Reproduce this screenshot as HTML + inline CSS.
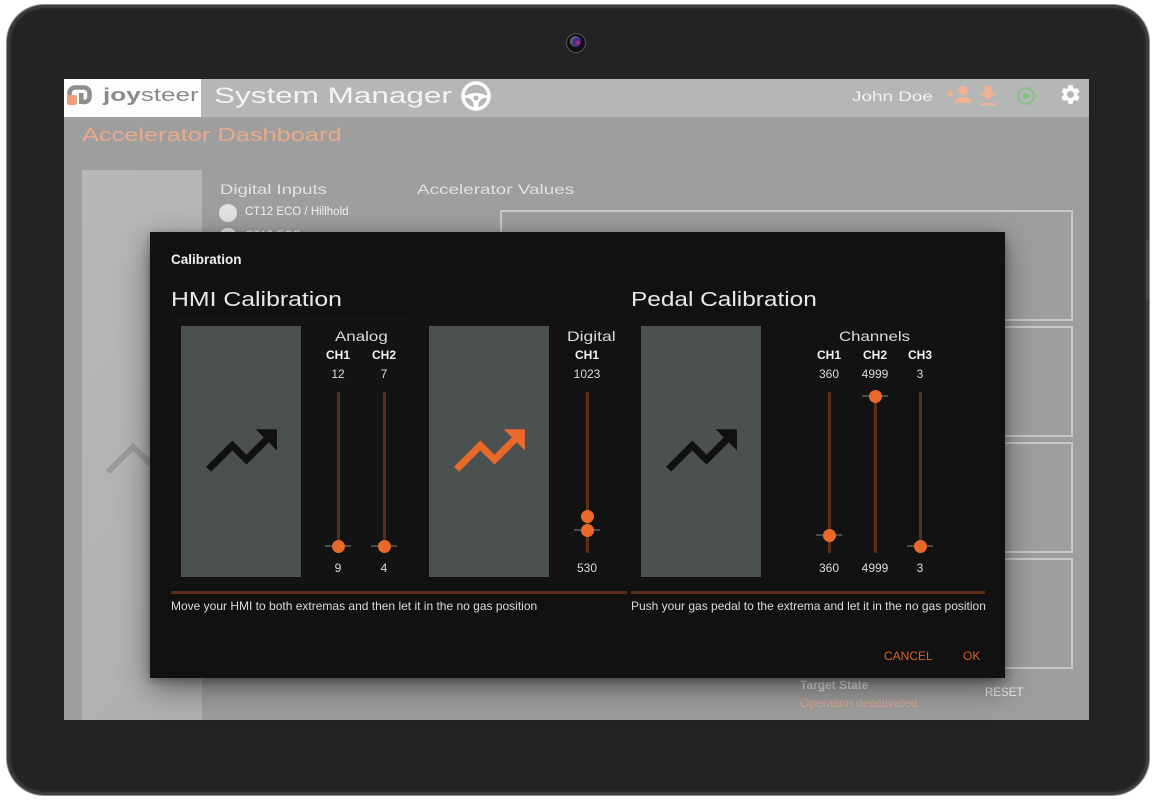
<!DOCTYPE html>
<html><head><meta charset="utf-8"><style>
*{margin:0;padding:0;box-sizing:border-box}
html,body{width:1155px;height:800px;background:#fff;overflow:hidden}
body{position:relative;font-family:"Liberation Sans",sans-serif}
.a{position:absolute}
.t{position:absolute;line-height:1;white-space:nowrap}
.w{display:inline-block;transform-origin:0 50%}
.c{position:absolute;line-height:1;white-space:nowrap;text-align:center;width:80px}
.track{position:absolute;width:3px;background:#5c2e16;top:392px;height:161px}
.tick{position:absolute;width:26px;height:2px;background:#4a4a4a}
.thumb{position:absolute;width:13px;height:13px;border-radius:50%;background:#e8692a}
.img{position:absolute;background:#4b5150;top:326px;width:120px;height:251px}
</style></head><body>

<!-- tablet -->
<div class="a" style="left:6px;top:4px;width:1144px;height:792px;border-radius:38px;background:#8f8f8f"></div>
<div class="a" style="left:7px;top:5px;width:1142px;height:790px;border-radius:37px;background:#3b3b3b"></div>
<div class="a" style="left:10px;top:8px;width:1136px;height:784px;border-radius:34px;background:#2a2a2a"></div>
<div class="a" style="left:12px;top:10px;width:1132px;height:780px;border-radius:32px;background:#232323"></div>
<div class="a" style="left:1146px;top:240px;width:3px;height:60px;background:#4a4a4a"></div>
<!-- camera -->
<div class="a" style="left:566px;top:33px;width:20px;height:20px;border-radius:50%;background:#111;border:1px solid #555"></div>
<div class="a" style="left:570px;top:36px;width:11px;height:11px;border-radius:50%;background:radial-gradient(circle at 70% 60%,#c0307a 0,#3a2a8a 35%,#666 70%)"></div>

<!-- screen -->
<div class="a" style="left:64px;top:79px;width:1025px;height:641px;background:#9e9e9e;overflow:hidden"></div>
<!-- header -->
<div class="a" style="left:64px;top:79px;width:1025px;height:38px;background:#b5b7b6"></div>
<div class="a" style="left:64px;top:79px;width:137px;height:38px;background:#fdfdfd"></div>
<!-- logo icon -->
<svg class="a" style="left:66px;top:85px" width="27" height="20" viewBox="0 0 27 20">
<path d="M3.5 18 V8 a5.5 5.5 0 0 1 5.5 -5.5 h9 a5.5 5.5 0 0 1 5.5 5.5 v4 a5 5 0 0 1 -5 5 h-2" fill="none" stroke="#8d8d8d" stroke-width="4.5"/>
<rect x="1" y="10" width="10" height="10" rx="2" fill="#ea9f7f"/>
<rect x="13" y="8" width="4.5" height="11" fill="#8d8d8d"/>
</svg>
<div class="t" style="left:103px;top:86px;font-size:18px;color:#8a8a8a"><span class="w" style="transform:scaleX(1.45)"><b>joy</b>steer</span></div>
<div class="t" style="left:214px;top:85px;font-size:22px;color:#f4f4f4"><span class="w" style="transform:scaleX(1.43)">System Manager</span></div>
<!-- steering wheel -->
<svg class="a" style="left:460px;top:80px" width="32" height="32" viewBox="0 0 32 32">
<circle cx="16" cy="16" r="13" fill="none" stroke="#fff" stroke-width="3.5"/>
<path d="M4 16 Q16 10 28 16 L28 18 Q22 17 19 22 L18 28 L14 28 L13 22 Q10 17 4 18 Z" fill="#fff"/>
<circle cx="16" cy="18" r="2.5" fill="#b5b7b6"/>
</svg>
<div class="t" style="left:852px;top:89px;font-size:14px;color:#f2f2f2"><span class="w" style="transform:scaleX(1.35)">John Doe</span></div>
<!-- person star -->
<svg class="a" style="left:945px;top:85px" width="27" height="20" viewBox="0 0 27 20">
<polygon points="5,4 6.3,7.2 9.6,7.4 7,9.5 7.9,12.8 5,11 2.1,12.8 3,9.5 0.4,7.4 3.7,7.2" fill="#f0b292"/>
<circle cx="18" cy="5.5" r="4.7" fill="#f0b292"/>
<path d="M9 18 Q9 12 18 12 Q27 12 27 18 Z" fill="#f0b292"/>
</svg>
<svg class="a" style="left:974px;top:82px" width="28" height="28" viewBox="0 0 24 24"><path d="M19 9h-4V3H9v6H5l7 7 7-7zM5 18v2h14v-2H5z" fill="#f0b292"/></svg>
<svg class="a" style="left:1015px;top:85px" width="22" height="22" viewBox="0 0 22 22"><circle cx="11" cy="11" r="8" fill="none" stroke="#7cc47c" stroke-width="1.6"/><circle cx="11" cy="11" r="3" fill="#7cc47c"/></svg>
<svg class="a" style="left:1059px;top:83px" width="23" height="23" viewBox="0 0 24 24"><path fill="#fff" d="M19.14 12.94c.04-.3.06-.61.06-.94 0-.32-.02-.64-.07-.94l2.030-1.58c.18-.14.23-.41.12-.61l-1.92-3.32c-.12-.22-.37-.29-.59-.22l-2.39.96c-.5-.38-1.030-.7-1.62-.94l-.36-2.54c-.04-.24-.24-.41-.48-.41h-3.84c-.24 0-.43.17-.47.41l-.36 2.54c-.59.24-1.13.57-1.62.94l-2.39-.96c-.22-.08-.47 0-.59.22L2.74 8.87c-.12.21-.08.47.12.61l2.030 1.58c-.05.3-.09.63-.09.94s.02.64.07.94l-2.030 1.58c-.18.14-.23.41-.12.61l1.92 3.32c.12.22.37.29.59.22l2.39-.96c.5.38 1.030.7 1.62.94l.36 2.54c.05.24.24.41.48.41h3.84c.24 0 .44-.17.47-.41l.36-2.54c.59-.24 1.13-.56 1.62-.94l2.39.96c.22.08.47 0 .59-.22l1.92-3.32c.12-.22.07-.47-.12-.61l-2.01-1.58zM12 15.6c-1.98 0-3.6-1.62-3.6-3.6s1.62-3.6 3.6-3.6 3.6 1.62 3.6 3.6-1.62 3.6-3.6 3.6z"/></svg>

<div class="t" style="left:82px;top:126px;font-size:18px;color:#eaa98a"><span class="w" style="transform:scaleX(1.41)">Accelerator Dashboard</span></div>

<!-- left panel -->
<div class="a" style="left:82px;top:170px;width:120px;height:550px;background:linear-gradient(135deg,#b6b8b7,#aeb0af)"></div>
<svg class="a" style="left:100px;top:438px" width="60" height="45" viewBox="0 0 60 45"><polyline points="8,34 33,9 55,30" fill="none" stroke="#9a9b9a" stroke-width="6"/></svg>

<div class="t" style="left:220px;top:182px;font-size:14px;color:#e2e2e2"><span class="w" style="transform:scaleX(1.32)">Digital Inputs</span></div>
<div class="t" style="left:417px;top:182px;font-size:14px;color:#e2e2e2"><span class="w" style="transform:scaleX(1.35)">Accelerator Values</span></div>
<div class="a" style="left:219px;top:204px;width:18px;height:18px;border-radius:50%;background:#e2e2e2"></div>
<div class="t" style="left:245px;top:207px;font-size:11.5px;color:#f0f0f0">CT12 ECO / Hillhold</div>
<div class="a" style="left:219px;top:228px;width:18px;height:18px;border-radius:50%;background:#e2e2e2"></div>
<div class="t" style="left:245px;top:231px;font-size:11.5px;color:#f0f0f0">CT12 ECO</div>

<!-- right boxes -->
<div class="a" style="left:500px;top:210px;width:573px;height:111px;border:2px solid #c8c8c8"></div>
<div class="a" style="left:500px;top:326px;width:573px;height:111px;border:2px solid #c8c8c8"></div>
<div class="a" style="left:500px;top:442px;width:573px;height:111px;border:2px solid #c8c8c8"></div>
<div class="a" style="left:500px;top:558px;width:573px;height:111px;border:2px solid #c8c8c8"></div>

<div class="t" style="left:800px;top:679px;font-size:12px;font-weight:bold;color:#dedede">Target State</div>
<div class="t" style="left:800px;top:697px;font-size:12px;color:#dca78d">Operation deactivated</div>
<div class="t" style="left:985px;top:688px;font-size:11.5px;color:#ececec">RESET</div>

<!-- dialog -->
<div class="a" style="left:150px;top:232px;width:855px;height:446px;background:#111;box-shadow:0 10px 28px rgba(0,0,0,.45),0 3px 8px rgba(0,0,0,.3)"></div>
<div class="a" style="left:170px;top:316px;width:245px;height:272px;background:#131313"></div>
<div class="a" style="left:420px;top:316px;width:205px;height:272px;background:#121212"></div>
<div class="a" style="left:631px;top:316px;width:354px;height:272px;background:#121212"></div>

<div class="t" style="left:171px;top:253px;font-size:13.5px;font-weight:bold;color:#f0f0f0">Calibration</div>
<div class="t" style="left:171px;top:290px;font-size:20px;color:#e8e8e8"><span class="w" style="transform:scaleX(1.24)">HMI Calibration</span></div>
<div class="t" style="left:631px;top:290px;font-size:20px;color:#e8e8e8"><span class="w" style="transform:scaleX(1.22)">Pedal Calibration</span></div>

<!-- image boxes -->
<div class="img" style="left:181px"></div>
<div class="img" style="left:429px"></div>
<div class="img" style="left:641px"></div>
<svg class="a" style="left:198.5px;top:407.5px" width="85" height="85" viewBox="0 0 24 24"><path d="M16 6l2.29 2.29-4.88 4.88-4-4L2 16.59 3.41 18l6-6 4 4 6.3-6.29L22 12V6z" fill="#111"/></svg>
<svg class="a" style="left:447px;top:407.5px" width="85" height="85" viewBox="0 0 24 24"><path d="M16 6l2.29 2.29-4.88 4.88-4-4L2 16.59 3.41 18l6-6 4 4 6.3-6.29L22 12V6z" fill="#e8692a"/></svg>
<svg class="a" style="left:658.5px;top:407.5px" width="85" height="85" viewBox="0 0 24 24"><path d="M16 6l2.29 2.29-4.88 4.88-4-4L2 16.59 3.41 18l6-6 4 4 6.3-6.29L22 12V6z" fill="#111"/></svg>

<!-- analog -->
<div class="t" style="left:335px;top:329px;font-size:14px;color:#dcdcdc"><span class="w" style="transform:scaleX(1.21)">Analog</span></div>
<div class="c" style="left:298px;top:349px;font-size:12px;font-weight:bold;color:#f2f2f2">CH1</div>
<div class="c" style="left:344px;top:349px;font-size:12px;font-weight:bold;color:#f2f2f2">CH2</div>
<div class="c" style="left:298px;top:368px;font-size:12px;color:#dcdcdc">12</div>
<div class="c" style="left:344px;top:368px;font-size:12px;color:#dcdcdc">7</div>
<div class="c" style="left:298px;top:562px;font-size:12px;color:#dcdcdc">9</div>
<div class="c" style="left:344px;top:562px;font-size:12px;color:#dcdcdc">4</div>
<div class="track" style="left:337px"></div>
<div class="track" style="left:382.5px"></div>
<div class="tick" style="left:325px;top:545px"></div>
<div class="tick" style="left:371px;top:545px"></div>
<div class="thumb" style="left:332px;top:539.5px"></div>
<div class="thumb" style="left:377.5px;top:539.5px"></div>

<!-- digital -->
<div class="t" style="left:567px;top:329px;font-size:14px;color:#dcdcdc"><span class="w" style="transform:scaleX(1.25)">Digital</span></div>
<div class="c" style="left:547px;top:349px;font-size:12px;font-weight:bold;color:#f2f2f2">CH1</div>
<div class="c" style="left:547px;top:368px;font-size:12px;color:#dcdcdc">1023</div>
<div class="c" style="left:547px;top:562px;font-size:12px;color:#dcdcdc">530</div>
<div class="track" style="left:585.5px"></div>
<div class="tick" style="left:574px;top:529px"></div>
<div class="thumb" style="left:580.5px;top:509.5px"></div>
<div class="thumb" style="left:580.5px;top:523.5px"></div>

<!-- pedal -->
<div class="t" style="left:839px;top:329px;font-size:14px;color:#dcdcdc"><span class="w" style="transform:scaleX(1.2)">Channels</span></div>
<div class="c" style="left:789px;top:349px;font-size:12px;font-weight:bold;color:#f2f2f2">CH1</div>
<div class="c" style="left:835px;top:349px;font-size:12px;font-weight:bold;color:#f2f2f2">CH2</div>
<div class="c" style="left:880px;top:349px;font-size:12px;font-weight:bold;color:#f2f2f2">CH3</div>
<div class="c" style="left:789px;top:368px;font-size:12px;color:#dcdcdc">360</div>
<div class="c" style="left:835px;top:368px;font-size:12px;color:#dcdcdc">4999</div>
<div class="c" style="left:880px;top:368px;font-size:12px;color:#dcdcdc">3</div>
<div class="c" style="left:789px;top:562px;font-size:12px;color:#dcdcdc">360</div>
<div class="c" style="left:835px;top:562px;font-size:12px;color:#dcdcdc">4999</div>
<div class="c" style="left:880px;top:562px;font-size:12px;color:#dcdcdc">3</div>
<div class="track" style="left:828px"></div>
<div class="track" style="left:873.5px"></div>
<div class="track" style="left:918.5px"></div>
<div class="tick" style="left:816px;top:534px"></div>
<div class="tick" style="left:862px;top:395px"></div>
<div class="tick" style="left:907px;top:545px"></div>
<div class="thumb" style="left:823px;top:528.5px"></div>
<div class="thumb" style="left:868.5px;top:389.5px"></div>
<div class="thumb" style="left:913.5px;top:539.5px"></div>

<!-- bottom lines -->
<div class="a" style="left:171px;top:591px;width:456px;height:3px;background:#5a2e16"></div>
<div class="a" style="left:631px;top:591px;width:354px;height:3px;background:#5a2e16"></div>
<div class="t" style="left:171px;top:600px;font-size:12px;color:#dcdcdc">Move your HMI to both extremas and then let it in the no gas position</div>
<div class="t" style="left:631px;top:600px;font-size:12px;color:#dcdcdc">Push your gas pedal to the extrema and let it in the no gas position</div>

<div class="t" style="left:884px;top:650px;font-size:12px;color:#d8621f">CANCEL</div>
<div class="t" style="left:963px;top:650px;font-size:12px;color:#d8621f">OK</div>

</body></html>
